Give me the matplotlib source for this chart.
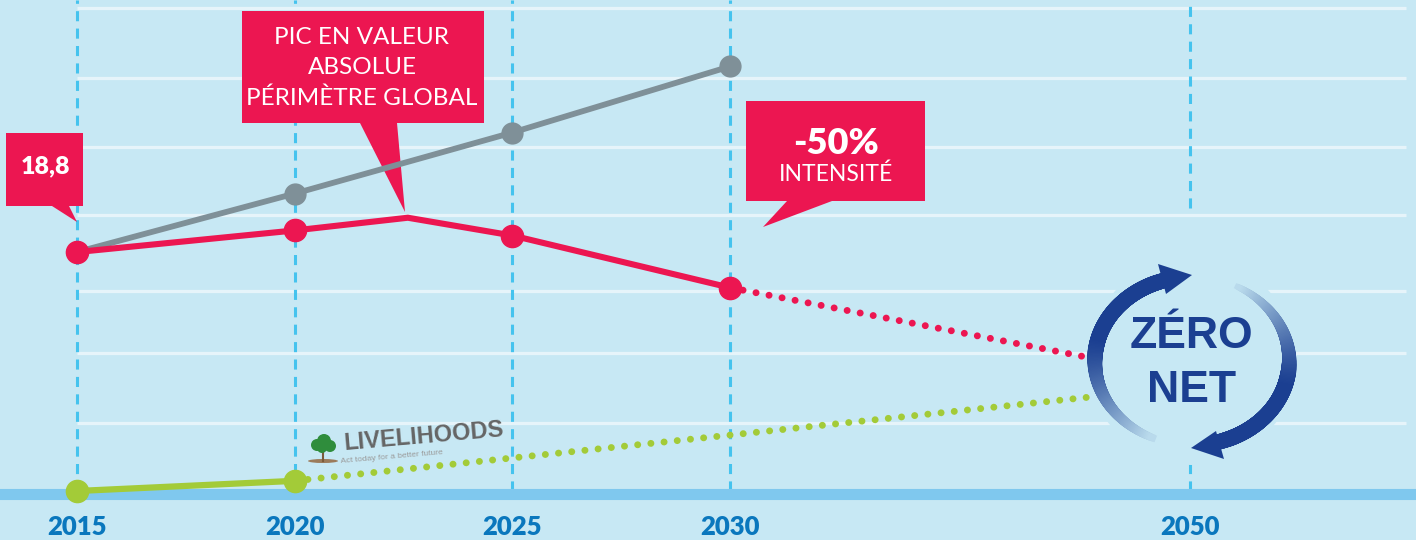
import numpy as np
import matplotlib
matplotlib.use("Agg")
import matplotlib.pyplot as plt
from matplotlib.patches import Polygon, Ellipse, Circle
from matplotlib.collections import LineCollection
from matplotlib.transforms import Affine2D
from matplotlib.colors import to_rgb

# data (index units, 2015 = 18,8)
years = [2015, 2020, 2025, 2030, 2050]
gray_years = [2015, 2020, 2025, 2030]
gray_vals = [18.8, 23.4, 28.2, 33.4]
red_years = [2015, 2020, 2022.6, 2025, 2030]
red_vals = [18.8, 20.5, 21.5, 20.1, 16.0]
red_marked = [2015, 2020, 2025, 2030]
red_proj_years = [2030, 2045.6]
red_proj_vals = [16.0, 10.5]
green_years = [2015, 2020]
green_vals = [0.0, 0.8]
green_proj_years = [2020, 2030, 2045.7]
green_proj_vals = [0.8, 4.4, 7.4]
grid_levels = [5.35, 10.86, 15.74, 21.72, 27.07, 32.49, 38.0]

BG = "#c7e8f4"
RED = "#ec1651"
GRAY = "#7f9098"
GREEN = "#a3cb38"
NAVY = "#1b3f91"
DASH = "#45c3ee"
YEARCOL = "#0a77bd"

W, H = 1416, 540
fig = plt.figure(figsize=(W / 100, H / 100), dpi=100, facecolor=BG)
ax = fig.add_axes([0, 0, 1, 1], facecolor=BG)

# years before 2030 spread wider than the last stretch to 2050
k = 23 / 43.53
def fwd(x):
    x = np.asarray(x, dtype=float)
    return np.where(x <= 2030, x - 2015, 15 + (x - 2030) * k)
def inv(u):
    u = np.asarray(u, dtype=float)
    return np.where(u <= 15, u + 2015, 2030 + (u - 15) / k)
ax.set_xscale("function", functions=(fwd, inv))
ax.set_xlim(2013.23, 2059.83)
ax.set_ylim(-3.855, 38.63)
ax.axis("off")

# pixel transform for the decorations (y down)
px = Affine2D().scale(1 / W, -1 / H).translate(0, 1) + fig.transFigure

# grid + dashed year lines + base bar
dash = (0, (3.3, 2.4))
ax.hlines(grid_levels, 2015, 2059.4, color="#e6f4fa", lw=2.3, zorder=1)
ax.vlines(years[:-1], 0, 38.63, color=DASH, lw=2.2, linestyles=dash, zorder=1)
ax.vlines([years[-1]], 22.3, 38.63, color=DASH, lw=2.2, linestyles=dash, zorder=1)
ax.vlines([years[-1]], 0, 2.4, color=DASH, lw=2.2, linestyles=dash, zorder=1)
ax.axhline(-0.2, xmin=0, xmax=1410 / W, color="#7fc8ee", lw=8, zorder=2)

# disc behind logo hides grid
ax.add_patch(Circle((1192, 361), 104, transform=px, facecolor=BG, edgecolor="none", zorder=1.5))

# callouts
def callout(pts, z=3):
    ax.add_patch(Polygon(pts, closed=True, transform=px, facecolor=RED, edgecolor="none", zorder=z))

callout([(6, 133), (83, 133), (83, 206), (69, 206), (77, 222), (52, 206), (6, 206)])
callout([(242, 11), (484, 11), (484, 123), (397, 123), (405, 212), (360, 123), (242, 123)])
callout([(746, 101), (925, 101), (925, 201), (832, 201), (763, 227), (787, 201), (746, 201)])

fam = ["Lato", "DejaVu Sans"]
ax.text(45, 166, "18,8", transform=px, ha="center", va="center", color="white",
        fontsize=18, fontweight="heavy", family=fam, zorder=6)
for i, line in enumerate(["PIC EN VALEUR", "ABSOLUE", "PÉRIMÈTRE GLOBAL"]):
    ax.text(362, 37 + i * 30.5, line, transform=px, ha="center", va="center", color="white",
            fontsize=17.5, family=fam, zorder=6)
ax.text(836, 143, "-50%", transform=px, ha="center", va="center", color="white",
        fontsize=26, fontweight="heavy", family=fam, zorder=6)
ax.text(836, 174, "INTENSITÉ", transform=px, ha="center", va="center", color="white",
        fontsize=16.5, family=fam, zorder=6)

# series
dot = (0, (0.01, 1.9))
ax.plot(gray_years, gray_vals, color=GRAY, lw=4.2, marker="o", ms=15, zorder=4)
ax.plot(red_proj_years, red_proj_vals, color=RED, lw=5, ls=dot, dash_capstyle="round", zorder=3.5)
ax.plot(green_proj_years, green_proj_vals, color=GREEN, lw=5, ls=dot, dash_capstyle="round", zorder=3.5)
ax.plot(red_years, red_vals, color=RED, lw=4.4, solid_joinstyle="miter", zorder=4.5)
ax.plot(red_marked, [v for y, v in zip(red_years, red_vals) if y in red_marked],
        ls="none", marker="o", ms=16, color=RED, zorder=4.6)
ax.plot(green_years, green_vals, color=GREEN, lw=4.5, marker="o", ms=16, zorder=4.5)

# year labels
for y in years:
    ax.text(y, -2.83, str(y), ha="center", va="center", color=YEARCOL,
            fontsize=18.5, fontweight="heavy", family=fam, zorder=6)

# ZERO NET logo: two arcs fading out, arrow heads
cx, cy, rx, ry = 1192, 361, 97, 84
navy_rgb = np.array(to_rgb(NAVY))
bg_rgb = np.array(to_rgb(BG))
def arc(t0, t1, w0, w1):
    t = np.radians(np.linspace(t0, t1, 160))
    xs = cx + rx * np.cos(t)
    ys = cy - ry * np.sin(t)
    segs = [[(xs[i], ys[i]), (xs[i + 1], ys[i + 1])] for i in range(len(t) - 1)]
    s = np.clip((np.linspace(0, 1, len(segs)) - 0.45) / 0.55, 0, 1)
    fade = s ** 1.3 * 0.92
    cols = [tuple(navy_rgb * (1 - f) + bg_rgb * f) for f in fade]
    widths = w0 + (w1 - w0) * s
    ax.add_collection(LineCollection(segs, colors=cols, linewidths=widths, transform=px,
                                     capstyle="projecting", zorder=5))

arc(108, 246, 11, 5)
arc(-72, 62, 11, 4)
ax.add_patch(Polygon([(1158, 264), (1192, 275), (1166, 294)], transform=px,
                     facecolor=NAVY, edgecolor="none", zorder=5.1))
ax.add_patch(Polygon([(1216, 431), (1191, 448), (1224, 459)], transform=px,
                     facecolor=NAVY, edgecolor="none", zorder=5.1))
ax.text(1191, 337, "ZÉRO", transform=px, ha="center", va="center", color=NAVY,
        fontsize=32, fontweight="bold", family=["Liberation Sans", "DejaVu Sans"], zorder=6)
ax.text(1192, 390, "NET", transform=px, ha="center", va="center", color=NAVY,
        fontsize=32, fontweight="bold", family=["Liberation Sans", "DejaVu Sans"], zorder=6)

# LIVELIHOODS watermark
ax.text(424, 437, "LIVELIHOODS", transform=px, ha="center", va="center", color="#656565",
        fontsize=17, fontweight="bold", rotation=5, family=["Liberation Sans", "DejaVu Sans"], zorder=3)
ax.text(392, 457, "Act today for a better future", transform=px, ha="center", va="center",
        color="#9a9a9a", fontsize=6, rotation=5, family=["Liberation Sans", "DejaVu Sans"], zorder=3)
ax.add_patch(Ellipse((323, 461), 30, 4, transform=px, facecolor="#9b7b5b", edgecolor="none", zorder=3))
ax.plot([323, 323], [461, 447], transform=px, color="#7a5a3a", lw=1.5, zorder=3)
for (tx, ty, r) in [(317, 445, 6), (324, 441, 7), (330, 446, 6), (322, 448, 5)]:
    ax.add_patch(Circle((tx, ty), r, transform=px, facecolor="#2f8d3c", edgecolor="none", zorder=3.1))

fig.savefig("out.png", dpi=100, facecolor=BG)
